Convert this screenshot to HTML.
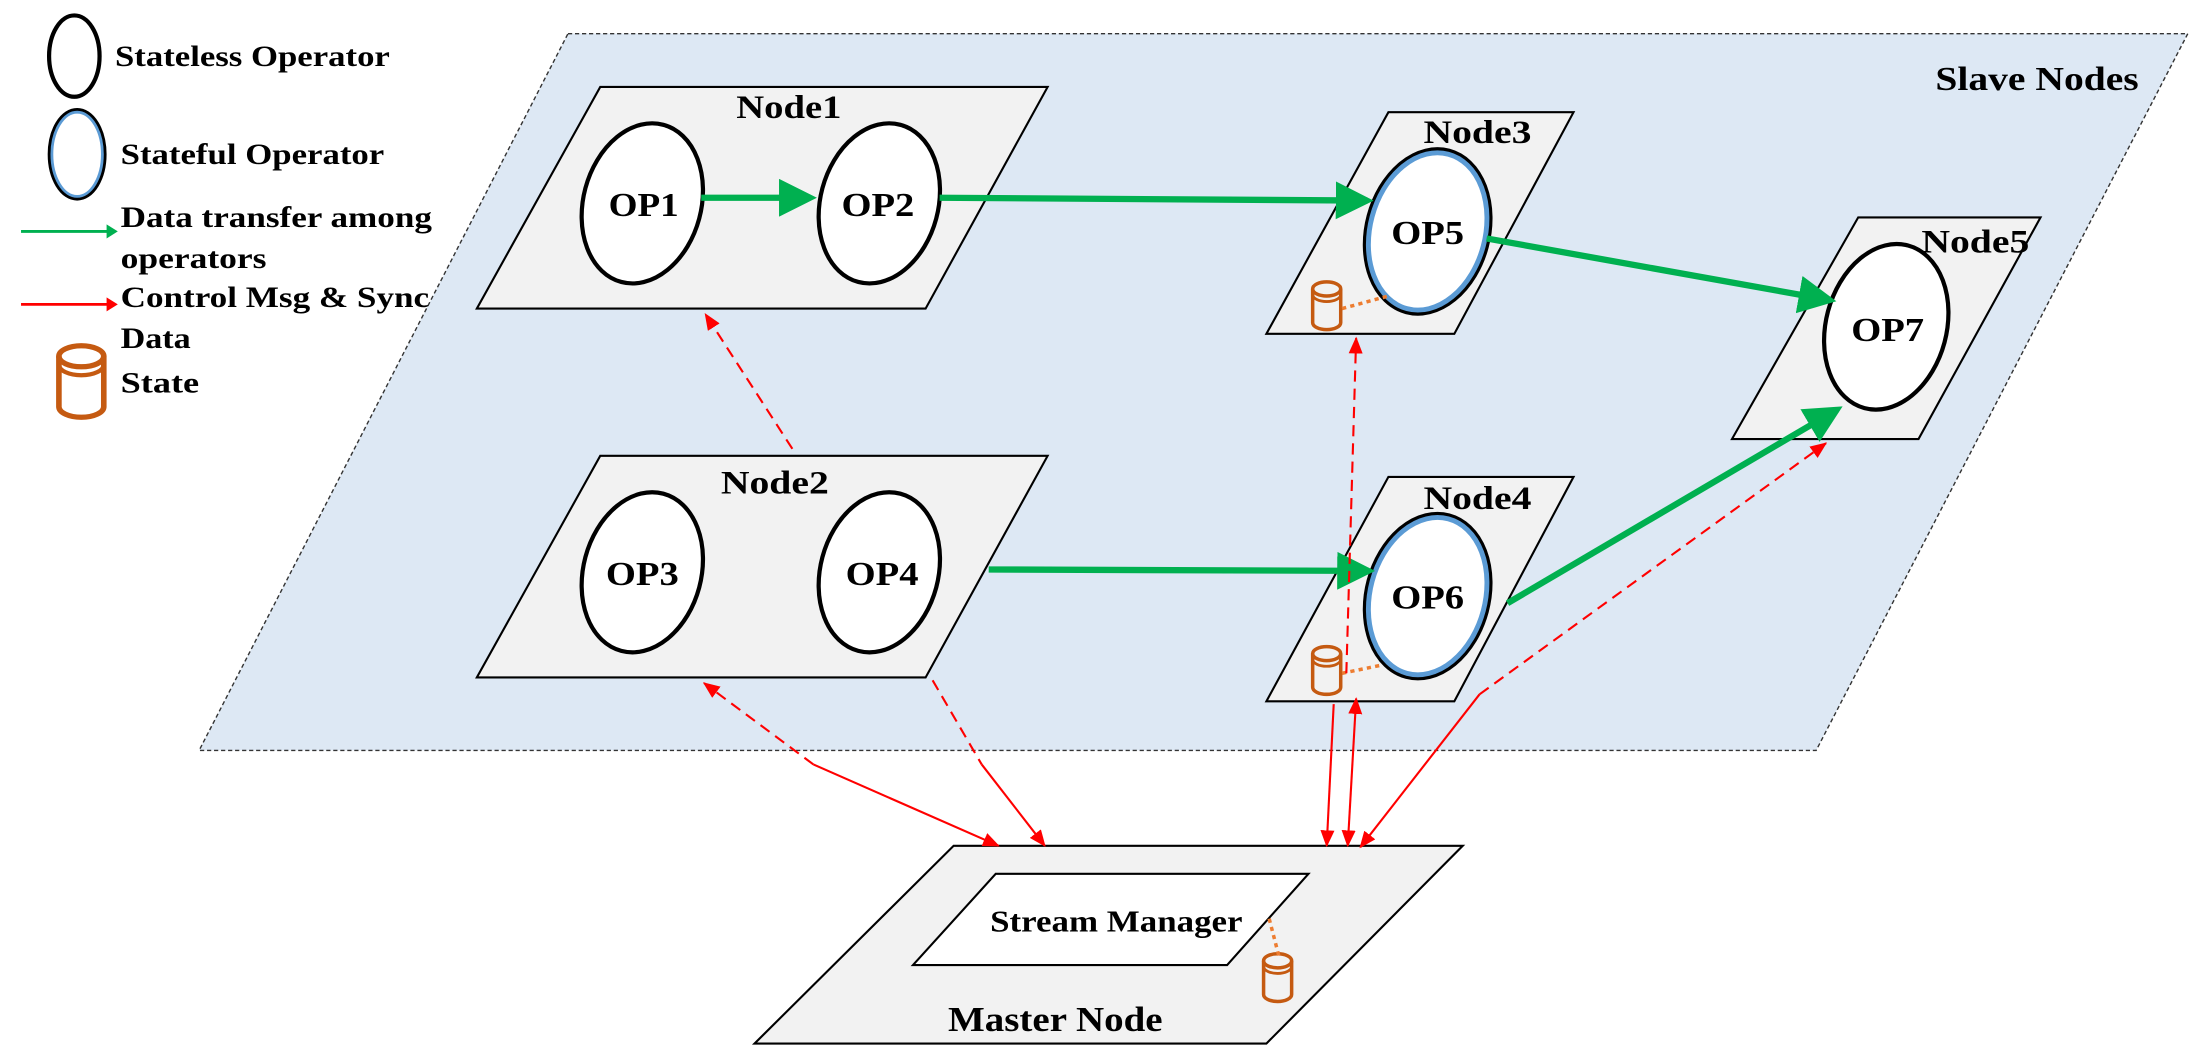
<!DOCTYPE html>
<html><head><meta charset="utf-8"><style>
html,body{margin:0;padding:0;background:#fff;width:2199px;height:1059px;overflow:hidden}
svg{display:block}
text{font-family:"Liberation Serif",serif;font-weight:bold;fill:#000}
</style></head><body>
<svg width="2199" height="1059" viewBox="0 0 1568 755" preserveAspectRatio="none" xmlns="http://www.w3.org/2000/svg">
<defs>
<marker id="g" markerWidth="6" markerHeight="6" refX="5" refY="3" orient="auto" markerUnits="strokeWidth"><path d="M0,0 L6,3 L0,6 z" fill="#00b050"/></marker>
<marker id="r" markerWidth="12" markerHeight="10" refX="11" refY="5" orient="auto" markerUnits="userSpaceOnUse"><path d="M0,0 L12,5 L0,10 z" fill="#ff0000"/></marker>
<marker id="rs" markerWidth="12" markerHeight="10" refX="1" refY="5" orient="auto" markerUnits="userSpaceOnUse"><path d="M12,0 L0,5 L12,10 z" fill="#ff0000"/></marker>
<g id="cyl"><path d="M-10,-12 L-10,12 A10,5 0 0 0 10,12 L10,-12" fill="none" stroke="#c55a11" stroke-width="2.5"/><ellipse cx="0" cy="-12" rx="10" ry="5" fill="none" stroke="#c55a11" stroke-width="2.5"/><path d="M-10,-8 A10,5 0 0 0 10,-8" fill="none" stroke="#c55a11" stroke-width="2"/></g>
</defs>
<polygon points="405,24 1560,24 1295,535 142,535" fill="#dde8f4" stroke="#333" stroke-width="1" stroke-dasharray="3,2"/>
<text x="1380" y="64" font-size="24" textLength="145" lengthAdjust="spacingAndGlyphs">Slave Nodes</text>
<g fill="#f2f2f2" stroke="#000" stroke-width="1.5">
<polygon points="428,62 747,62 660,220 340,220"/>
<polygon points="428,325 747,325 660,483 340,483"/>
<polygon points="990,80 1122,80 1037,238 903,238"/>
<polygon points="990,340 1122,340 1037,500 903,500"/>
<polygon points="1325,155 1455,155 1368,313 1235,313"/>
<polygon points="680,603 1043,603 903,744 538,744"/>
</g>
<polygon points="710,623 933,623 875,688 651,688" fill="#fff" stroke="#000" stroke-width="1.5"/>
<g font-size="23">
<text x="525" y="84" textLength="75" lengthAdjust="spacingAndGlyphs">Node1</text>
<text x="514" y="352" textLength="77" lengthAdjust="spacingAndGlyphs">Node2</text>
<text x="1015" y="102" textLength="77" lengthAdjust="spacingAndGlyphs">Node3</text>
<text x="1015" y="363" textLength="77" lengthAdjust="spacingAndGlyphs">Node4</text>
<text x="1370" y="180" textLength="77" lengthAdjust="spacingAndGlyphs">Node5</text>
</g>
<text x="706" y="664" font-size="22" textLength="180" lengthAdjust="spacingAndGlyphs">Stream Manager</text>
<text x="676" y="735" font-size="25" textLength="153" lengthAdjust="spacingAndGlyphs">Master Node</text>
<g fill="#fff" stroke="#000" stroke-width="3">
<ellipse cx="458" cy="145" rx="42" ry="58" transform="rotate(15 458 145)"/>
<ellipse cx="627" cy="145" rx="42" ry="58" transform="rotate(15 627 145)"/>
<ellipse cx="458" cy="408" rx="42" ry="58" transform="rotate(15 458 408)"/>
<ellipse cx="627" cy="408" rx="42" ry="58" transform="rotate(15 627 408)"/>
<ellipse cx="1345" cy="233" rx="43" ry="60" transform="rotate(15 1345 233)"/>
</g>
<g fill="#fff">
<g transform="rotate(15 1018 165)"><ellipse cx="1018" cy="165" rx="41" ry="57" stroke="#000" stroke-width="8"/><ellipse cx="1018" cy="165" rx="41" ry="57" stroke="#5b9bd5" stroke-width="3.5"/></g>
<g transform="rotate(15 1018 425)"><ellipse cx="1018" cy="425" rx="41" ry="57" stroke="#000" stroke-width="8"/><ellipse cx="1018" cy="425" rx="41" ry="57" stroke="#5b9bd5" stroke-width="3.5"/></g>
</g>
<g font-size="24">
<text x="434" y="154" textLength="50" lengthAdjust="spacingAndGlyphs">OP1</text><text x="600" y="154" textLength="52" lengthAdjust="spacingAndGlyphs">OP2</text>
<text x="432" y="417" textLength="52" lengthAdjust="spacingAndGlyphs">OP3</text><text x="603" y="417" textLength="52" lengthAdjust="spacingAndGlyphs">OP4</text>
<text x="992" y="174" textLength="52" lengthAdjust="spacingAndGlyphs">OP5</text><text x="992" y="434" textLength="52" lengthAdjust="spacingAndGlyphs">OP6</text>
<text x="1320" y="243" textLength="52" lengthAdjust="spacingAndGlyphs">OP7</text>
</g>
<use href="#cyl" x="946" y="218"/><use href="#cyl" x="946" y="478"/><use href="#cyl" x="911" y="697"/>
<g stroke="#ed7d31" stroke-width="2.5" stroke-dasharray="3,3" fill="none">
<line x1="957" y1="220" x2="990" y2="211"/><line x1="957" y1="480" x2="986" y2="474"/><line x1="905" y1="655" x2="912" y2="682"/>
</g>
<g stroke="#00b050" stroke-width="4.5" fill="none" marker-end="url(#g)">
<line x1="500" y1="141" x2="578" y2="141"/>
<line x1="670" y1="141" x2="975" y2="143"/>
<line x1="1060" y1="170" x2="1305" y2="214"/>
<line x1="705" y1="406" x2="976" y2="407"/>
<line x1="1075" y1="430" x2="1310" y2="292"/>
</g>
<g stroke="#ff0000" stroke-width="1.5" fill="none">
<line x1="565" y1="320" x2="503" y2="224" stroke-dasharray="8,5" marker-end="url(#r)"/>
<line x1="960" y1="480" x2="967" y2="241" stroke-dasharray="8,5" marker-end="url(#r)"/>
<line x1="1055" y1="495" x2="1302" y2="316" stroke-dasharray="8,5" marker-end="url(#r)"/>
<line x1="1055" y1="495" x2="970" y2="604" marker-end="url(#r)"/>
<line x1="580" y1="545" x2="502" y2="487" stroke-dasharray="8,5" marker-end="url(#r)"/>
<line x1="580" y1="545" x2="712" y2="603" marker-end="url(#r)"/>
<line x1="665" y1="485" x2="700" y2="545" stroke-dasharray="8,5"/>
<line x1="700" y1="545" x2="745" y2="603" marker-end="url(#r)"/>
<line x1="967" y1="498" x2="961" y2="603" marker-end="url(#r)" marker-start="url(#rs)"/>
<line x1="951" y1="502" x2="946" y2="603" marker-end="url(#r)"/>
</g>
<ellipse cx="53" cy="40" rx="18" ry="29" fill="#fff" stroke="#000" stroke-width="3"/>
<g font-size="21">
<text x="82" y="47" textLength="196" lengthAdjust="spacingAndGlyphs">Stateless Operator</text>
<text x="86" y="117" textLength="188" lengthAdjust="spacingAndGlyphs">Stateful Operator</text>
<text x="86" y="162" textLength="222" lengthAdjust="spacingAndGlyphs">Data transfer among</text>
<text x="86" y="191" textLength="104" lengthAdjust="spacingAndGlyphs">operators</text>
<text x="86" y="219" textLength="220" lengthAdjust="spacingAndGlyphs">Control Msg &amp; Sync</text>
<text x="86" y="248" textLength="50" lengthAdjust="spacingAndGlyphs">Data</text>
<text x="86" y="280" textLength="56" lengthAdjust="spacingAndGlyphs">State</text>
</g>
<ellipse cx="55" cy="110" rx="18" ry="30" fill="#fff" stroke="#000" stroke-width="6"/>
<ellipse cx="55" cy="110" rx="18" ry="30" fill="#fff" stroke="#5b9bd5" stroke-width="2"/>
<line x1="15" y1="165" x2="78" y2="165" stroke="#00b050" stroke-width="2"/><path d="M76,160 L84,165 L76,170z" fill="#00b050"/>
<line x1="15" y1="217" x2="78" y2="217" stroke="#ff0000" stroke-width="2"/><path d="M76,212 L84,217 L76,222z" fill="#ff0000"/>
<g transform="translate(58,272) scale(1.6,1.5)"><use href="#cyl"/></g>
</svg>
</body></html>
